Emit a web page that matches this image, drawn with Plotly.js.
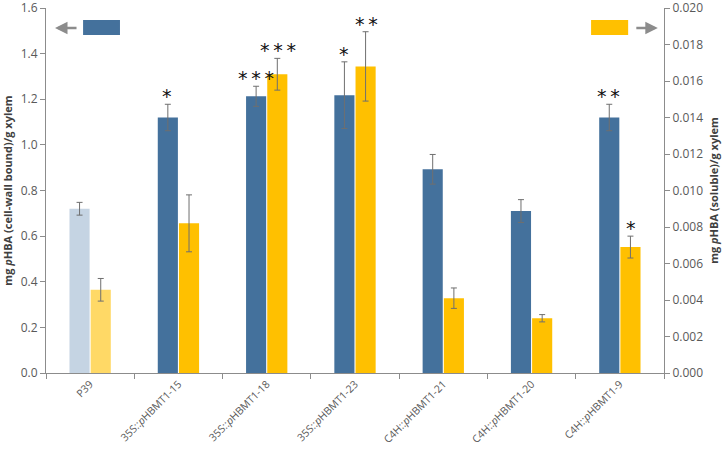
<!DOCTYPE html>
<html>
<head>
<meta charset="utf-8">
<script src="https://cdn.plot.ly/plotly-3.0.1.min.js"></script>
<style>html,body{margin:0;padding:0;background:#fff;}#chart{width:725px;height:450px;}</style>
</head>
<body>
<div id="chart"></div>
<script>
const categories = ["P39", "35S::<i>p</i>HBMT1-15", "35S::<i>p</i>HBMT1-18", "35S::<i>p</i>HBMT1-23", "C4H::<i>p</i>HBMT1-21", "C4H::<i>p</i>HBMT1-20", "C4H::<i>p</i>HBMT1-9"];
const cellWall = [0.72, 1.12, 1.213, 1.218, 0.893, 0.71, 1.12];
const cellWallErr = [0.028, 0.058, 0.044, 0.146, 0.065, 0.05, 0.058];
const soluble = [0.00456, 0.0082, 0.01637, 0.0168, 0.0041, 0.0030, 0.0069];
const solubleErr = [0.00062, 0.00156, 0.00087, 0.0019, 0.00056, 0.0002, 0.0006];
const cellWallSig = ["", "*", "***", "*", "", "", "**"];
const solubleSig = ["", "", "***", "**", "", "", "*"];
const leftTicks = [0, 0.2, 0.4, 0.6, 0.8, 1.0, 1.2, 1.4, 1.6];
const rightTicks = [0, 0.002, 0.004, 0.006, 0.008, 0.010, 0.012, 0.014, 0.016, 0.018, 0.020];

const blueCols = categories.map((c, i) => i === 0 ? "#c5d4e3" : "#44719c");
const yellowCols = categories.map((c, i) => i === 0 ? "#ffd966" : "#ffc000");

const traces = [
  {
    type: "bar", x: categories, y: cellWall, name: "cell-wall bound",
    marker: {color: blueCols},
    error_y: {type: "data", array: cellWallErr, visible: true, color: "#6f6f6f", thickness: 1, width: 3},
    yaxis: "y", offsetgroup: "a"
  },
  {
    type: "bar", x: categories, y: soluble, name: "soluble",
    marker: {color: yellowCols},
    error_y: {type: "data", array: solubleErr, visible: true, color: "#6f6f6f", thickness: 1, width: 3},
    yaxis: "y2", offsetgroup: "b"
  }
];

const annotations = [];
categories.forEach((c, i) => {
  if (cellWallSig[i]) annotations.push({
    x: c, y: cellWall[i] + cellWallErr[i], xref: "x", yref: "y", text: cellWallSig[i].split("").join("\u2009"),
    showarrow: false, xshift: -11, yanchor: "bottom", yshift: -5,
    font: {family: "DejaVu Sans", size: 19, color: "#111"}
  });
  if (solubleSig[i]) annotations.push({
    x: c, y: soluble[i] + solubleErr[i], xref: "x", yref: "y2", text: solubleSig[i].split("").join("\u2009"),
    showarrow: false, xshift: 11, yanchor: "bottom", yshift: -5,
    font: {family: "DejaVu Sans", size: 19, color: "#111"}
  });
});
annotations.push({x: 0.0146, y: 0.945, xref: "paper", yref: "paper", ax: 23, ay: 0, axref: "pixel", ayref: "pixel",
  text: "", showarrow: true, arrowhead: 2, arrowsize: 1, arrowwidth: 2.5, arrowcolor: "#8c8c8c"});
annotations.push({x: 0.990, y: 0.945, xref: "paper", yref: "paper", ax: -23, ay: 0, axref: "pixel", ayref: "pixel",
  text: "", showarrow: true, arrowhead: 2, arrowsize: 1, arrowwidth: 2.5, arrowcolor: "#8c8c8c"});

const layout = {
  width: 725, height: 450,
  margin: {l: 46, r: 61, t: 8, b: 77},
  paper_bgcolor: "#fff", plot_bgcolor: "#fff",
  showlegend: false,
  barmode: "group", bargap: 0.52, bargroupgap: 0.05,
  font: {family: "Open Sans, Calibri, sans-serif", color: "#595959"},
  xaxis: {
    type: "category", tickangle: -45, tickfont: {size: 10.5, color: "#595959"},
    showline: true, linecolor: "#8c8c8c", linewidth: 1,
    ticks: "outside", tickson: "boundaries", ticklen: 5, tickcolor: "#8c8c8c",
    automargin: false, ticklabeloverflow: "allow",
    showgrid: false, zeroline: false
  },
  yaxis: {
    range: [0, 1.6], tickmode: "array", tickvals: leftTicks, ticktext: leftTicks.map(v => v.toFixed(1)),
    tickfont: {size: 12, color: "#595959"}, automargin: false, ticklabeloverflow: "allow",
    showline: true, linecolor: "#8c8c8c", ticks: "outside", ticklen: 5, tickcolor: "#8c8c8c",
    showgrid: false, zeroline: false,
    title: {text: "mg <i>p</i>HBA (cell-wall bound)/g xylem", font: {size: 11, color: "#404040", family: "Open Sans, sans-serif", weight: "bold"}, standoff: 8}
  },
  yaxis2: {
    overlaying: "y", side: "right",
    range: [0, 0.020], tickmode: "array", tickvals: rightTicks, ticktext: rightTicks.map(v => v.toFixed(3)),
    tickfont: {size: 12, color: "#595959"}, automargin: false, ticklabeloverflow: "allow",
    showline: true, linecolor: "#8c8c8c", ticks: "outside", ticklen: 5, tickcolor: "#8c8c8c",
    showgrid: false, zeroline: false,
    title: {text: "mg <i>p</i>HBA (soluble)/g xylem", font: {size: 11, color: "#404040", family: "Open Sans, sans-serif", weight: "bold"}, standoff: 8}
  },
  shapes: [
    {type: "rect", xref: "paper", yref: "paper", x0: 0.060, x1: 0.1197, y0: 0.926, y1: 0.967, fillcolor: "#44719c", line: {width: 0}},
    {type: "rect", xref: "paper", yref: "paper", x0: 0.882, x1: 0.942, y0: 0.926, y1: 0.967, fillcolor: "#ffc000", line: {width: 0}}
  ],
  annotations: annotations
};

Plotly.newPlot("chart", traces, layout, {displayModeBar: false, staticPlot: true});
</script>
</body>
</html>
